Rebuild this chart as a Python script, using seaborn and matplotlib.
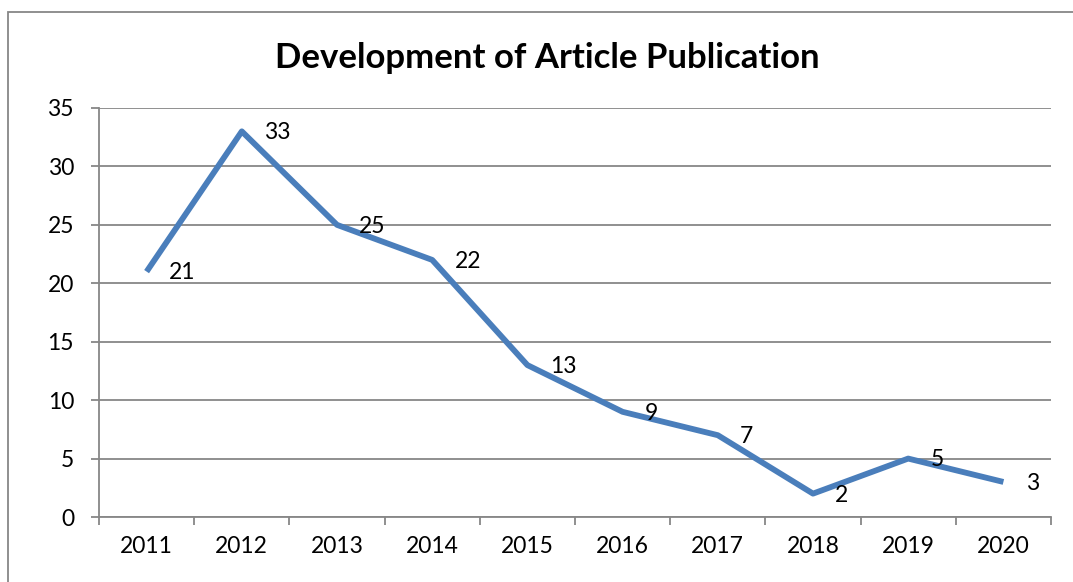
import matplotlib
matplotlib.use("Agg")
import matplotlib.pyplot as plt
import matplotlib.patches as mpatches
from matplotlib.ticker import FixedLocator, NullFormatter
import pandas as pd
import seaborn as sns

# -- Data ------------------------------------------------------------------
years = ["2011", "2012", "2013", "2014", "2015", "2016", "2017", "2018", "2019", "2020"]
articles = [21, 33, 25, 22, 13, 9, 7, 2, 5, 3]
y_ticks = [0, 5, 10, 15, 20, 25, 30, 35]
title = "Development of Article Publication"

data = pd.DataFrame({"year": years, "articles": articles})
data["pos"] = range(len(years))

# -- Style -----------------------------------------------------------------
sns.set_theme(style="white")
plt.rcParams["font.family"] = ["Lato", "DejaVu Sans"]
grid_col = "#878787"
line_col = "#4A7EBB"

fig = plt.figure(figsize=(10.73, 5.82), dpi=100)
ax = fig.add_axes([99 / 1073, 65 / 582, 952 / 1073, 409 / 582])

sns.lineplot(data=data, x="pos", y="articles", color=line_col,
             linewidth=4.2, solid_capstyle="butt", ax=ax)

# value labels to the right of each point
for _, row in data.iterrows():
    ax.annotate(str(row["articles"]), (row["pos"], row["articles"]),
                xytext=(16, -1), textcoords="offset points",
                ha="left", va="center", fontsize=16.5, color="black")

# -- Axes ------------------------------------------------------------------
ax.set_xlim(-0.5, len(years) - 0.5)
ax.set_ylim(0, 35)
ax.set_yticks(y_ticks)
ax.set_yticklabels([str(t) for t in y_ticks])
ax.yaxis.grid(True, color=grid_col, linewidth=1.3)
ax.set_axisbelow(True)

# ticks between categories, labels centred on categories
ax.xaxis.set_major_locator(FixedLocator([i - 0.5 for i in range(len(years) + 1)]))
ax.xaxis.set_major_formatter(NullFormatter())
ax.xaxis.set_minor_locator(FixedLocator(list(range(len(years)))))
ax.set_xticklabels(years, minor=True)
ax.tick_params(axis="x", which="major", length=6, width=1.3, color=grid_col,
               direction="out", bottom=True)
ax.tick_params(axis="x", which="minor", length=0, pad=14, labelsize=16.5,
               labelcolor="black")
ax.tick_params(axis="y", length=6, width=1.3, color=grid_col, direction="out",
               left=True, pad=12, labelsize=16.5, labelcolor="black")

ax.set_xlabel("")
ax.set_ylabel("")
for side in ["top", "right"]:
    ax.spines[side].set_visible(False)
for side in ["left", "bottom"]:
    ax.spines[side].set_color(grid_col)
    ax.spines[side].set_linewidth(1.3)

fig.text(547 / 1073, 1 - 58 / 582, title, ha="center", va="center",
         fontsize=25, fontweight="bold", color="black")

# outer chart frame
fig.add_artist(mpatches.Rectangle((8 / 1073, -0.05), 1.2, 570 / 582 + 0.05,
                                  transform=fig.transFigure, fill=False,
                                  edgecolor=grid_col, linewidth=1.3))

fig.savefig("out.png", dpi=100)
